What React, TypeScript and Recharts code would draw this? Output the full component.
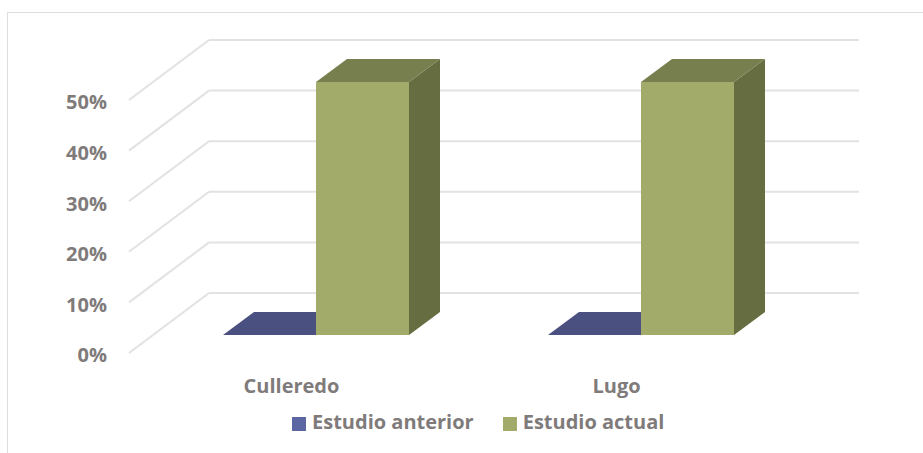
import { BarChart, Bar, XAxis, YAxis, CartesianGrid, Legend } from "recharts";

const categories = ["Culleredo", "Lugo"];
const estudioAnterior = [0, 0];
const estudioActual = [50, 50];
const percentTicks = [0, 10, 20, 30, 40, 50];

const data = categories.map((name, i) => ({
  name,
  anterior: estudioAnterior[i],
  actual: estudioActual[i],
}));

const FONT = "'Open Sans', sans-serif";
const TEXT = "#7f7b7b";

// the fake 3D: the plot area is the back wall, everything else is pushed forward from it
const WALL_DX = -80;
const WALL_DY = 60;
const BAR_DX = -56;
const BAR_DY = 42;
const DEPTH_X = 31;
const DEPTH_Y = -23;

const pts = (list: number[][]) => list.map((p) => p.join(",")).join(" ");

function Bar3D(props: any) {
  const { x, y, width, height, front, side, top } = props;
  const l = x + BAR_DX;
  const r = l + width;
  const t = y + BAR_DY;
  const b = t + height;
  return (
    <g>
      {height > 0 && <rect x={l} y={t} width={width} height={height} fill={front} />}
      {height > 0 && (
        <polygon
          points={pts([[r, t], [r + DEPTH_X, t + DEPTH_Y], [r + DEPTH_X, b + DEPTH_Y], [r, b]])}
          fill={side}
        />
      )}
      <polygon
        points={pts([[l, t], [r, t], [r + DEPTH_X, t + DEPTH_Y], [l + DEPTH_X, t + DEPTH_Y]])}
        fill={top}
      />
    </g>
  );
}

function PercentTick(props: any) {
  const { y, payload } = props;
  return (
    <g>
      <line x1={209} y1={y} x2={209 + WALL_DX} y2={y + WALL_DY} stroke="#e2e2e2" strokeWidth={2} />
      <text x={107} y={y + WALL_DY + 4} textAnchor="end" dominantBaseline="middle" fontSize={20} fontWeight={700} fontFamily={FONT} fill={TEXT}>
        {payload.value}%
      </text>
    </g>
  );
}

function CategoryTick(props: any) {
  const { x, payload } = props;
  return (
    <text x={x + WALL_DX} y={388} textAnchor="middle" dominantBaseline="middle" fontSize={20} fontWeight={700} fontFamily={FONT} fill={TEXT}>
      {payload.value}
    </text>
  );
}

const legendLabel = (value: string) => (
  <span style={{ color: TEXT, fontSize: 20, fontWeight: 700, fontFamily: FONT, marginLeft: 2, marginRight: 19, position: "relative", top: 1 }}>
    {value}
  </span>
);

export default function App() {
  return (
    <div style={{ position: "absolute", left: 0, top: 0, width: 923, height: 453, overflow: "hidden", background: "#fff" }}>
      <div
        style={{
          position: "absolute",
          left: 7,
          top: 12,
          width: 1000,
          height: 1000,
          borderLeft: "1.5px solid #dedede",
          borderTop: "1.5px solid #dedede",
        }}
      />
      <div style={{ position: "absolute", left: 0, top: 0 }}>
        <BarChart
          width={923}
          height={453}
          data={data}
          margin={{ top: 13, right: 64, bottom: 130, left: 0 }}
          barSize={93}
          barGap={0}
        >
          <CartesianGrid horizontal vertical={false} stroke="#e2e2e2" strokeWidth={2} />
          <XAxis dataKey="name" axisLine={false} tickLine={false} tick={<CategoryTick />} interval={0} height={30} />
          <YAxis
            width={209}
            domain={[0, 50]}
            ticks={percentTicks}
            axisLine={false}
            tickLine={false}
            tick={<PercentTick />}
          />
          <Legend
            layout="horizontal"
            align="left"
            verticalAlign="top"
            iconType="square"
            iconSize={14}
            itemSorter={null}
            formatter={legendLabel}
            wrapperStyle={{ left: 292, top: 407, width: 420, bottom: "auto" }}
          />
          <Bar
            dataKey="anterior"
            name="Estudio anterior"
            fill="#5c66a3"
            isAnimationActive={false}
            shape={<Bar3D front="#5c66a3" side="#3b4270" top="#4a5080" />}
          />
          <Bar
            dataKey="actual"
            name="Estudio actual"
            fill="#a2ab69"
            isAnimationActive={false}
            shape={<Bar3D front="#a2ab69" side="#666d40" top="#787f4f" />}
          />
        </BarChart>
      </div>
    </div>
  );
}
